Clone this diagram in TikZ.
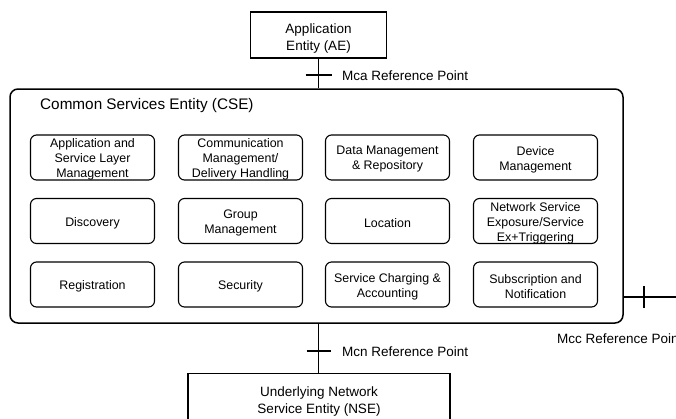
\documentclass[tikz,border=0pt]{standalone}
\usepackage{fontspec}
\setmainfont{Liberation Sans}
\usetikzlibrary{positioning}

\begin{document}
\begin{tikzpicture}[x=1pt,y=-1pt,
  svctext/.style={align=center,inner sep=0pt,yshift=-2pt,font=\fontsize{12.4}{15}\selectfont},
  svcbox/.style={draw,line width=1.1pt,rounded corners=6pt,minimum width=124pt,minimum height=45pt,
    inner sep=0pt,label={[svctext]center:#1}},
  entbox/.style={draw,line width=1.3pt,inner sep=1pt,align=center,font=\fontsize{13.5}{17}\selectfont},
  reflabel/.style={anchor=west,inner sep=0pt,font=\fontsize{13.5}{16}\selectfont},
  refline/.style={line width=1.3pt}]
\clip (0,0) rectangle (676,418);
% entities
\node[entbox,minimum width=136pt,minimum height=46pt,
  label={[align=center,inner sep=0pt,yshift=-3.5pt,font=\fontsize{13.5}{17}\selectfont]center:Application\\Entity (AE)}] (ae) at (318.5,35) {};
\node[draw,line width=1.5pt,rounded corners=8pt,inner sep=0pt,minimum width=613pt,minimum height=234pt] (cse) at (316.5,206) {};
\node[anchor=west,inner sep=0pt,font=\fontsize{15.3}{18}\selectfont] (csetitle) at (40,105.5) {Common Services Entity (CSE)};
\node[entbox,anchor=north,minimum width=262pt,minimum height=55pt] (nse) at (319,373) {Underlying Network\\Service Entity (NSE)};
% common service functions
\node[svcbox={Application and\\Service Layer\\Management}] (asl) at (92.5,157.5) {};
\node[svcbox={Communication\\Management/\\Delivery Handling}] (cmdh) at (240.5,157.5) {};
\node[svcbox={Data Management\\\& Repository}] (dmr) at (387.5,157.5) {};
\node[svcbox={Device\\Management}] (dmg) at (535.5,157.5) {};
\node[svcbox={Discovery}] (dis) at (92.5,221) {};
\node[svcbox={Group\\Management}] (gmg) at (240.5,221) {};
\node[svcbox={Location}] (loc) at (387.5,221) {};
\node[svcbox={Network Service\\Exposure/Service\\Ex+Triggering}] (nsx) at (535.5,221) {};
\node[svcbox={Registration}] (reg) at (92.5,284.5) {};
\node[svcbox={Security}] (sec) at (240.5,284.5) {};
\node[svcbox={Service Charging \&\\Accounting}] (sca) at (387.5,284.5) {};
\node[svcbox={Subscription and\\Notification}] (sub) at (535.5,284.5) {};
% reference points
\draw[refline] (ae.south) -- (ae.south |- cse.north);
\coordinate (mca) at (ae.south |- 0,75);
\draw[refline] ([xshift=-13pt]mca) -- ([xshift=13pt]mca);
\node[reflabel] (mcalbl) at (342,76) {Mca Reference Point};
\draw[refline] (ae.south |- cse.south) -- (ae.south |- nse.north);
\coordinate (mcn) at (ae.south |- 0,351);
\draw[refline] ([xshift=-12pt]mcn) -- ([xshift=12pt]mcn);
\node[reflabel] (mcnlbl) at (342,352) {Mcn Reference Point};
\coordinate (mccend) at (676,297);
\draw[refline] (cse.east |- mccend) -- (mccend);
\coordinate (mcc) at (644,297);
\draw[refline] ([yshift=-11pt]mcc) -- ([yshift=11pt]mcc);
\node[reflabel] (mcclbl) at (557,339) {Mcc Reference Point};
\end{tikzpicture}
\end{document}
